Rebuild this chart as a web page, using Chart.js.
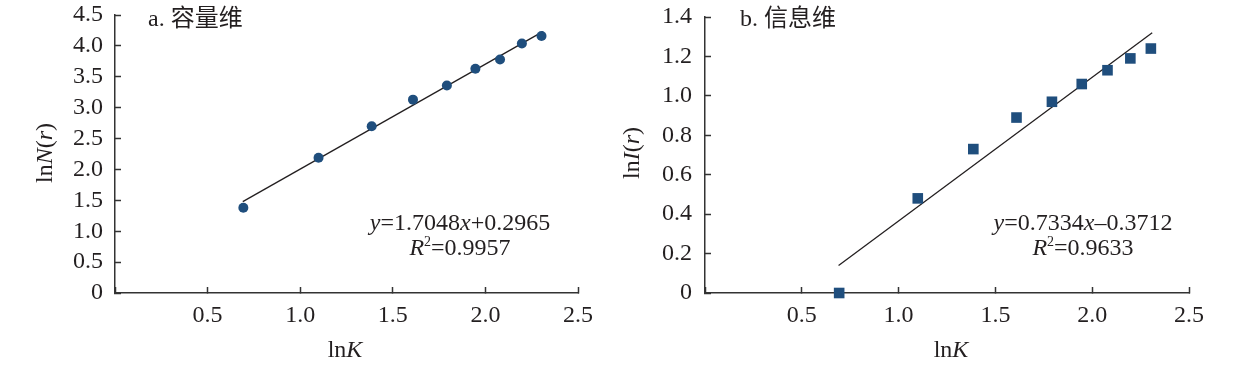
<!DOCTYPE html>
<html>
<head>
<meta charset="utf-8">
<script src="https://cdn.jsdelivr.net/npm/chart.js"></script>
<style>
  body { margin: 0; background: #fff; }
  #wrap { position: relative; width: 1233px; height: 378px; }
  #chartA { position: absolute; left: 0; top: 0; }
  #chartB { position: absolute; left: 620px; top: 0; }
</style>
</head>
<body>
<div id="wrap">
  <canvas id="chartA" width="620" height="378"></canvas>
  <canvas id="chartB" width="613" height="378"></canvas>
</div>
<script>
// data
const lnK = [0.693, 1.099, 1.386, 1.609, 1.792, 1.946, 2.079, 2.197, 2.303];
const lnN = [1.38, 2.19, 2.70, 3.13, 3.36, 3.63, 3.78, 4.04, 4.16];
const lnI = [0.00, 0.48, 0.73, 0.89, 0.97, 1.06, 1.13, 1.19, 1.24];
// fitted line end points
const fitX = [0.69, 2.31];
const fitN = [1.48, 4.23];
const fitI = [0.14, 1.32];

const serif = '"Liberation Serif", "Times New Roman", serif';
const markColor = '#1f4e7d';
const inkColor = '#231f20';
const fs = 24;

Chart.defaults.font.family = serif;
Chart.defaults.font.size = fs;
Chart.defaults.color = inkColor;

function pts(xs, ys) {
  return xs.map((x, i) => ({x: x, y: ys[i]}));
}

// draw a line of text made of runs: [text, 'n' | 'i' | 'sup']
function drawRuns(ctx, runs, cx, cy, size, align) {
  const fontOf = st => {
    if (st === 'i') return 'italic ' + size + 'px ' + serif;
    if (st === 'sup') return Math.round(size * 0.6) + 'px ' + serif;
    return size + 'px ' + serif + ', "Noto Sans CJK SC"';
  };
  let w = 0;
  runs.forEach(r => { ctx.font = fontOf(r[1]); w += ctx.measureText(r[0]).width; });
  let x = align === 'left' ? cx : cx - w / 2;
  ctx.textBaseline = 'middle';
  ctx.textAlign = 'left';
  runs.forEach(r => {
    ctx.font = fontOf(r[1]);
    const dy = r[1] === 'sup' ? -size * 0.28 : 0;
    ctx.fillText(r[0], x, cy + dy);
    x += ctx.measureText(r[0]).width;
  });
}

const textPlugin = {
  id: 'texts',
  afterDraw(chart) {
    const t = chart.options.plugins.texts;
    const ctx = chart.ctx;
    ctx.save();
    ctx.fillStyle = inkColor;
    drawRuns(ctx, t.title, t.titlePos[0], t.titlePos[1], fs, 'left');
    drawRuns(ctx, t.eq1, t.eqPos[0], t.eqPos[1], fs, 'center');
    drawRuns(ctx, t.eq2, t.eqPos[0], t.eqPos[1] + 25, fs, 'center');
    drawRuns(ctx, t.xTitle, t.xTitlePos[0], t.xTitlePos[1], fs, 'center');
    ctx.translate(t.yTitlePos[0], t.yTitlePos[1]);
    ctx.rotate(-Math.PI / 2);
    drawRuns(ctx, t.yTitle, 0, 0, fs, 'center');
    ctx.restore();
  }
};

function makeChart(id, cfg) {
  return new Chart(document.getElementById(id), {
    type: 'scatter',
    data: {
      datasets: [{
        data: pts(lnK, cfg.values),
        pointStyle: cfg.marker,
        pointRadius: cfg.radius,
        backgroundColor: markColor,
        borderColor: markColor,
        borderWidth: 0,
        clip: false
      }, {
        type: 'line',
        data: pts(fitX, cfg.fit),
        borderColor: inkColor,
        borderWidth: 1.3,
        pointRadius: 0,
        fill: false,
        clip: false
      }]
    },
    options: {
      responsive: false,
      animation: false,
      layout: { padding: { left: 0, top: cfg.top, right: cfg.right, bottom: 0 } },
      plugins: {
        legend: { display: false },
        tooltip: { enabled: false },
        texts: cfg.texts
      },
      scales: {
        x: {
          type: 'linear', min: 0, max: 2.5,
          border: { color: '#333', width: 1.5 },
          grid: { drawOnChartArea: false, tickLength: -6, tickColor: '#333', tickWidth: 1.5 },
          ticks: {
            stepSize: 0.5, padding: 14, autoSkip: false,
            callback: v => v === 0 ? '' : v.toFixed(1)
          },
          afterFit: s => {
            s.height = 85;
            s.paddingLeft = 0;
            s.paddingRight = 0;
          }
        },
        y: {
          type: 'linear', min: 0, max: cfg.yMax,
          border: { color: '#333', width: 1.5 },
          grid: { drawOnChartArea: false, tickLength: -6, tickColor: '#333', tickWidth: 1.5 },
          ticks: {
            stepSize: cfg.yStep, padding: cfg.yPad, autoSkip: false,
            callback: v => v === 0 ? '0' : v.toFixed(1)
          },
          afterFit: s => {
            s.width = cfg.left;
            s.paddingTop = 0;
            s.paddingBottom = 0;
          }
        }
      }
    },
    plugins: [textPlugin]
  });
}

makeChart('chartA', {
  values: lnN, fit: fitN, marker: 'circle', radius: 5,
  yMax: 4.5, yStep: 0.5, yPad: 18,
  left: 115, right: 42, top: 15,
  texts: {
    title: [['a. 容量维', 'n']], titlePos: [148, 20],
    eq1: [['y', 'i'], ['=1.7048', 'n'], ['x', 'i'], ['+0.2965', 'n']],
    eq2: [['R', 'i'], ['2', 'sup'], ['=0.9957', 'n']],
    eqPos: [460, 224],
    xTitle: [['ln', 'n'], ['K', 'i']], xTitlePos: [345, 351],
    yTitle: [['ln', 'n'], ['N', 'i'], ['(', 'n'], ['r', 'i'], [')', 'n']], yTitlePos: [46, 153]
  }
});

makeChart('chartB', {
  values: lnI, fit: fitI, marker: 'rect', radius: 7.5,
  yMax: 1.4, yStep: 0.2, yPad: 19,
  left: 85, right: 44, top: 17,
  texts: {
    title: [['b. 信息维', 'n']], titlePos: [120, 20],
    eq1: [['y', 'i'], ['=0.7334', 'n'], ['x', 'i'], ['–0.3712', 'n']],
    eq2: [['R', 'i'], ['2', 'sup'], ['=0.9633', 'n']],
    eqPos: [463, 224],
    xTitle: [['ln', 'n'], ['K', 'i']], xTitlePos: [331, 351],
    yTitle: [['ln', 'n'], ['I', 'i'], ['(', 'n'], ['r', 'i'], [')', 'n']], yTitlePos: [13, 153]
  }
});
</script>
</body>
</html>
